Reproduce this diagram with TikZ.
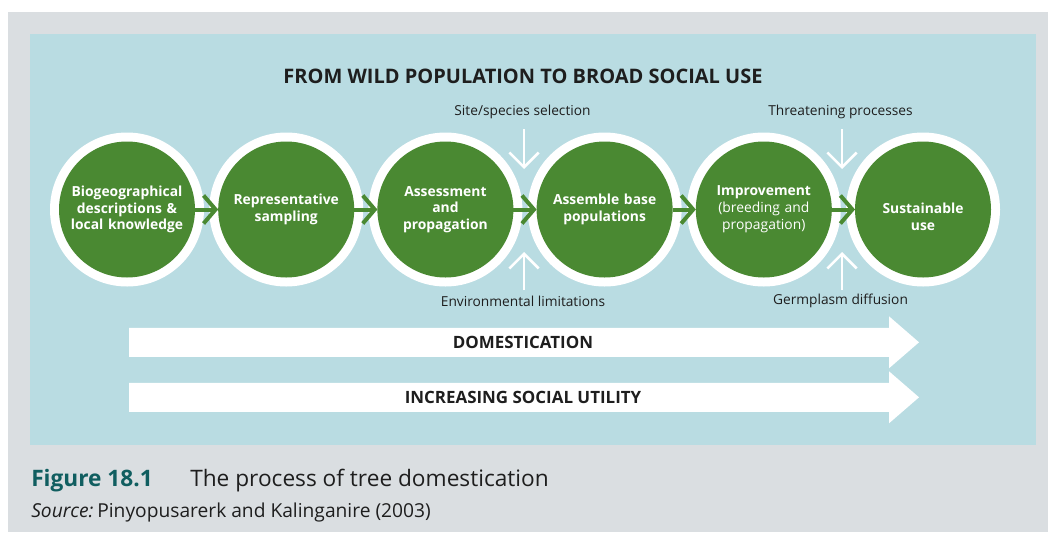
\documentclass[tikz,border=0pt]{standalone}
\usepackage{fontspec}
\setmainfont{Open Sans}
\usetikzlibrary{arrows.meta}
\definecolor{pgrey}{HTML}{DADEE1}
\definecolor{pblue}{HTML}{B9DCE2}
\definecolor{pgreen}{HTML}{4A8932}
\definecolor{pteal}{HTML}{105E60}
\definecolor{ptext}{HTML}{1E1E1E}
\begin{document}
\begin{tikzpicture}[x=0.75pt,y=-0.75pt,
  ring/.style={circle,fill=white,minimum size=115.5pt,inner sep=0pt,outer sep=0pt},
  stage/.style={circle,fill=pgreen,minimum size=102pt,inner sep=0pt,outer sep=0pt,text=white,
    font=\bfseries\fontsize{10.4}{12.6}\selectfont,align=center,text width=94pt},
  flow/.style={draw=pgreen,line width=3pt,-{Straight Barb[length=9pt,width=21pt]}},
  influence/.style={draw=white,line width=1.9pt,-{Straight Barb[length=11pt,width=22pt]}},
  lbl/.style={text=ptext,font=\fontsize{10.3}{12}\selectfont,inner sep=0pt},
  bandtext/.style={text=ptext,font=\bfseries\fontsize{12.7}{15}\selectfont,inner sep=0pt}
]
\useasboundingbox (0,0) rectangle (1048,532);
\fill[white] (0,0) rectangle (1048,532);
\fill[pgrey] (8,12) rectangle (1048,532);
\fill[pblue] (30,34) rectangle (1036,445);

\node[text=ptext,font=\bfseries\fontsize{15}{18}\selectfont,inner sep=0pt] (title) at (523,76)
  {FROM WILD POPULATION TO BROAD SOCIAL USE};

% rings
\node[ring] (r1) at (127,209.5) {};
\node[ring] (r2) at (286.2,209.5) {};
\node[ring] (r3) at (445.4,209.5) {};
\node[ring] (r4) at (604.6,209.5) {};
\node[ring] (r5) at (763.8,209.5) {};
\node[ring] (r6) at (923,209.5) {};
% stages
\node[stage] (c1) at (r1) {Biogeographical\\descriptions \&\\local knowledge};
\node[stage] (c2) at (r2) {Representative\\sampling};
\node[stage] (c3) at (r3) {Assessment\\and\\propagation};
\node[stage] (c4) at (r4) {Assemble base\\populations};
\node[stage] (c5) at (r5) {Improvement\\\mdseries (breeding and\\propagation)};
\node[stage] (c6) at (r6) {};
\node[text=white,font=\bfseries\fontsize{10.4}{12.6}\selectfont,align=center,inner sep=0pt] (c6t)
  at (923,216.5) {Sustainable\\use};

\draw[flow] (c1.east) -- (c2.west);
\draw[flow] (c2.east) -- (c3.west);
\draw[flow] (c3.east) -- (c4.west);
\draw[flow] (c4.east) -- (c5.west);
\draw[flow] (c5.east) -- (c6.west);

% influences
\node[lbl] (l1) at (522.5,112) {Site/species selection};
\node[lbl] (l2) at (840.5,112) {Threatening processes};
\node[lbl] (l3) at (523,301) {Environmental limitations};
\node[lbl] (l4) at (840.5,301) {Germplasm diffusion};
\coordinate (a1s) at (524,129); \coordinate (a1e) at (524,169);
\coordinate (a2s) at (842,129); \coordinate (a2e) at (842,169);
\coordinate (a3s) at (524,290); \coordinate (a3e) at (524,252);
\coordinate (a4s) at (842,290); \coordinate (a4e) at (842,252);
\draw[influence] (a1s) -- (a1e);
\draw[influence] (a2s) -- (a2e);
\draw[influence] (a3s) -- (a3e);
\draw[influence] (a4s) -- (a4e);

% bands
\fill[white] (129,327.8) -- (889,327.8) -- (889,316.3) -- (919,342.3) -- (889,368.3)
  -- (889,356.8) -- (129,356.8) -- cycle;
\node[bandtext] (b1) at (523,342.3) {DOMESTICATION};
\fill[white] (129,382.8) -- (889,382.8) -- (889,371.3) -- (919,397.3) -- (889,423.3)
  -- (889,411.8) -- (129,411.8) -- cycle;
\node[bandtext] (b2) at (523,397.3) {INCREASING SOCIAL UTILITY};

% caption
\node[anchor=base west,inner sep=0pt,text=pteal,font=\bfseries\fontsize{17}{20}\selectfont] (fig) at (31,486)
  {Figure 18.1};
\node[anchor=base west,inner sep=0pt,text=ptext,font=\fontsize{17}{20}\selectfont] (cap) at (190,486)
  {The process of tree domestication};
\node[anchor=base west,inner sep=0pt,text=ptext,font=\fontsize{14.4}{17}\selectfont] (src) at (31,517)
  {{\itshape Source:}\hspace{0.2em}Pinyopusarerk and Kalinganire (2003)};
\end{tikzpicture}
\end{document}
